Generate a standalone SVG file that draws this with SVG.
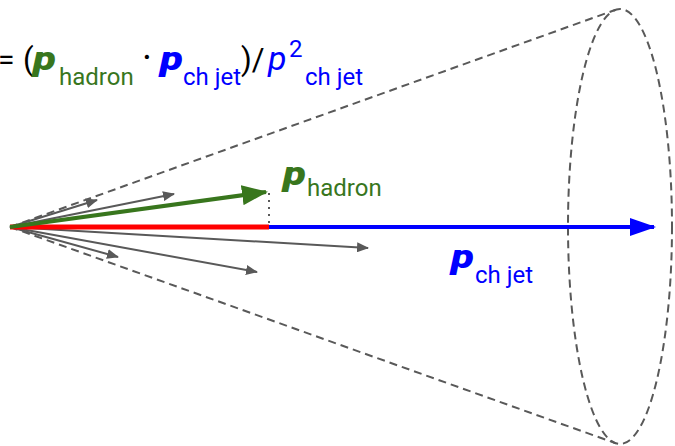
<svg xmlns="http://www.w3.org/2000/svg" width="675" height="446" viewBox="0 0 675 446">
<defs>
<style>
text{font-family:Roboto,"Liberation Sans",sans-serif}
.dash{fill:none;stroke:#595959;stroke-width:2;stroke-dasharray:8 5}
.gray{stroke:#595959;stroke-width:2;fill:none}
.vec{font-weight:900;font-style:italic;font-size:33px}
.sub{font-size:24px}
.g{fill:#38761d}
.b{fill:#0000ff}
.k{fill:#000}
</style>
<marker id="ag" viewBox="0 0 12 10" refX="11" refY="5" markerWidth="12" markerHeight="10" markerUnits="userSpaceOnUse" orient="auto">
<path d="M0,0 L12,5 L0,10 Z" fill="#595959"/>
</marker>
<marker id="agr" viewBox="0 0 26 20" refX="24" refY="10" markerWidth="26" markerHeight="20" markerUnits="userSpaceOnUse" orient="auto">
<path d="M0,0 L26,10 L0,20 Z" fill="#38761d"/>
</marker>
<marker id="ab" viewBox="0 0 26 18" refX="24" refY="9" markerWidth="26" markerHeight="18" markerUnits="userSpaceOnUse" orient="auto">
<path d="M0,0 L26,9 L0,18 Z" fill="#0000ff"/>
</marker>
</defs>

<g id="cone">
<ellipse cx="620" cy="226.5" rx="52" ry="217.5" class="dash"/>
<line x1="10" y1="227" x2="615.6" y2="9.8" class="dash"/>
<line x1="10" y1="227" x2="615.6" y2="443.2" class="dash"/>
</g>

<g id="connectors">
<line x1="10" y1="227" x2="97" y2="200" class="gray" marker-end="url(#ag)"/>
<line x1="10" y1="227" x2="174" y2="194" class="gray" marker-end="url(#ag)"/>
<line x1="10" y1="227" x2="368" y2="248" class="gray" marker-end="url(#ag)"/>
<line x1="10" y1="227" x2="257" y2="272" class="gray" marker-end="url(#ag)"/>
<line x1="10" y1="227" x2="118" y2="257" class="gray" marker-end="url(#ag)"/>
<line x1="10" y1="227" x2="654" y2="227" stroke="#0000ff" stroke-width="4" marker-end="url(#ab)"/>
<line x1="10" y1="227" x2="269" y2="227" stroke="#ff0000" stroke-width="5"/>
<line x1="269" y1="193" x2="269" y2="225" stroke="#595959" stroke-width="2" stroke-dasharray="2 5"/>
<line x1="10" y1="227" x2="266" y2="192" stroke="#38761d" stroke-width="4" marker-end="url(#agr)"/>
</g>

<g id="formula">
<text x="-2" y="70" font-size="30" class="k">=</text>
<text x="23" y="70" font-size="31" class="k">(</text>
<text x="33" y="70" class="vec g" textLength="23" lengthAdjust="spacingAndGlyphs">p</text>
<text x="59" y="85" class="sub g">hadron</text>
<text x="147" y="71" font-size="38" class="k" text-anchor="middle">·</text>
<text x="160" y="70" class="vec b" textLength="23" lengthAdjust="spacingAndGlyphs">p</text>
<text x="183" y="85" class="sub b">ch jet</text>
<text x="241" y="70" font-size="31" class="k">)/</text>
<text x="268" y="70" font-size="34" font-style="italic" class="b">p</text>
<text x="289" y="57" class="sub b">2</text>
<text x="305" y="85" class="sub b">ch jet</text>
</g>

<g id="label-hadron">
<text x="283" y="185" class="vec g" textLength="23" lengthAdjust="spacingAndGlyphs">p</text>
<text x="307" y="196" class="sub g">hadron</text>
</g>

<g id="label-jet">
<text x="451" y="268" class="vec b" textLength="23" lengthAdjust="spacingAndGlyphs">p</text>
<text x="475" y="283" class="sub b">ch jet</text>
</g>
</svg>
